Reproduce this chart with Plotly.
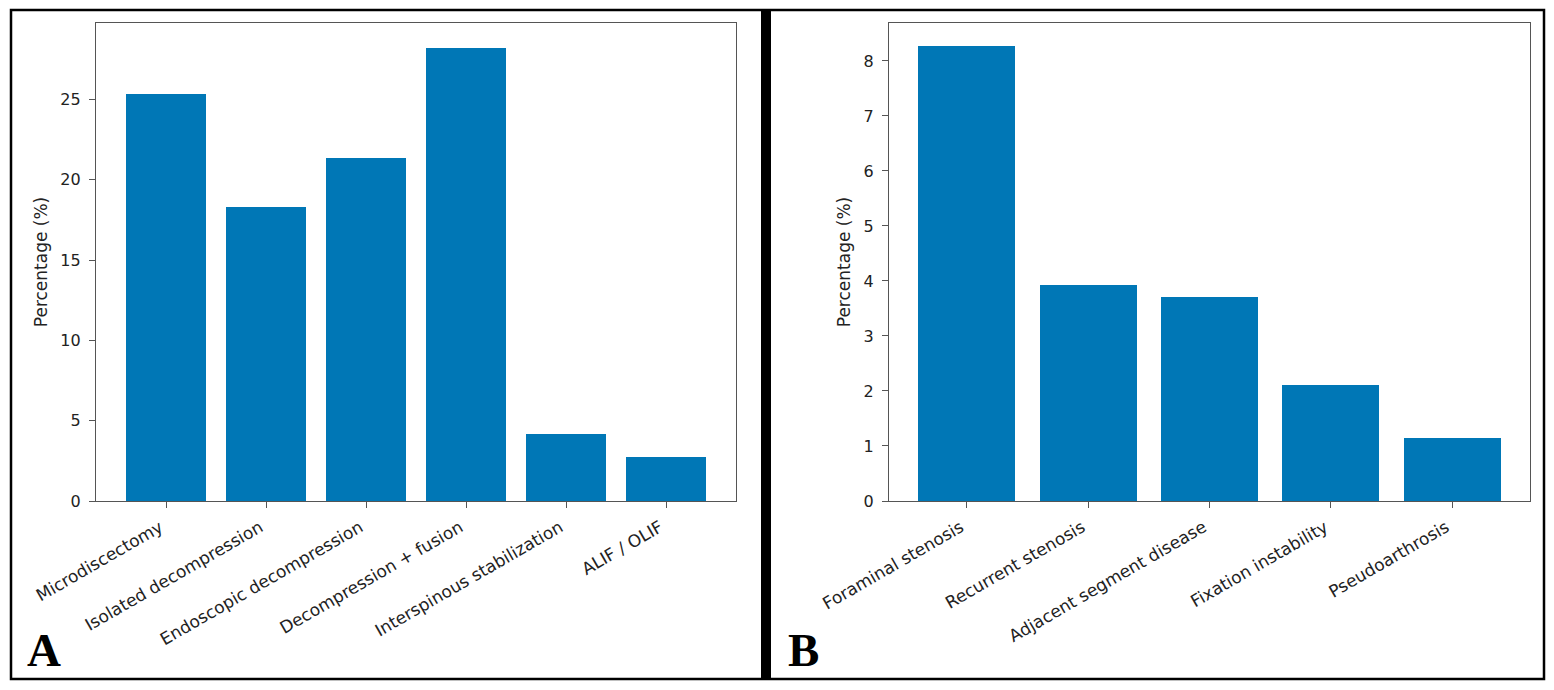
import plotly.graph_objects as go

# the page body adds an 8px margin, so the paper is sized and positioned to compensate
OFF = 8
W, H = 1554 - OFF, 690 - OFF

# panel A: procedures
procedures = ["Microdiscectomy", "Isolated decompression", "Endoscopic decompression",
              "Decompression + fusion", "Interspinous stabilization", "ALIF / OLIF"]
procedure_pct = [25.35, 18.3, 21.35, 28.2, 4.2, 2.75]

# panel B: complications
complications = ["Foraminal stenosis", "Recurrent stenosis", "Adjacent segment disease",
                 "Fixation instability", "Pseudoarthrosis"]
complication_pct = [8.27, 3.92, 3.7, 2.1, 1.14]

BAR = "#0077b6"
AX = "#555555"
TXT = "#222222"


def px_x(p):
    return (p - OFF) / W


def px_y(p):
    return 1 - (p - OFF) / H


fig = go.Figure()
fig.add_trace(go.Bar(x=list(range(len(procedures))), y=procedure_pct, width=0.8,
                     marker=dict(color=BAR, line=dict(width=0)),
                     xaxis="x", yaxis="y", showlegend=False))
fig.add_trace(go.Bar(x=list(range(len(complications))), y=complication_pct, width=0.8,
                     marker=dict(color=BAR, line=dict(width=0)),
                     xaxis="x2", yaxis="y2", showlegend=False))

tickfont = dict(family="DejaVu Sans", size=16, color=TXT)
common_x = dict(showgrid=False, zeroline=False, showline=True, linecolor=AX, linewidth=1.2,
                mirror=True, ticks="outside", ticklen=6, tickcolor=AX, tickangle=-30,
                tickfont=dict(tickfont, size=17), automargin=False,
                ticklabelstandoff=3, ticklabelshift=-6)
common_y = dict(showgrid=False, zeroline=False, showline=True, linecolor=AX, linewidth=1.2,
                mirror=True, ticks="outside", ticklen=6, tickcolor=AX, tickfont=tickfont,
                automargin=False, ticklabelstandoff=5,
                title=dict(text="Percentage (%)", font=dict(family="DejaVu Sans", size=17, color=TXT),
                           standoff=8))

ydom = [px_y(501), px_y(23)]

fig.update_layout(
    width=W, height=H,
    margin=dict(l=0, r=0, t=0, b=0, pad=0, autoexpand=False),
    paper_bgcolor="white", plot_bgcolor="white",
    bargap=0,
    xaxis=dict(common_x, domain=[px_x(96), px_x(736)], range=[-0.7, 5.7],
               tickmode="array", tickvals=list(range(len(procedures))), ticktext=procedures),
    yaxis=dict(common_y, domain=ydom, range=[0, 29.77], tickvals=[0, 5, 10, 15, 20, 25]),
    xaxis2=dict(common_x, domain=[px_x(889), px_x(1530)], range=[-0.64, 4.64],
                tickmode="array", tickvals=list(range(len(complications))), ticktext=complications,
                anchor="y2"),
    yaxis2=dict(common_y, domain=ydom, range=[0, 8.69], tickvals=list(range(9)), anchor="x2"),
)

# outer frame and thick divider
fig.add_shape(type="rect", xref="paper", yref="paper",
              x0=px_x(11), x1=px_x(1544), y0=px_y(679), y1=px_y(10),
              line=dict(color="black", width=2.5), fillcolor="rgba(0,0,0,0)")
fig.add_shape(type="rect", xref="paper", yref="paper",
              x0=px_x(761), x1=px_x(771), y0=px_y(679), y1=px_y(10),
              line=dict(width=0), fillcolor="black")

for letter, xp in [("A", 25), ("B", 786)]:
    fig.add_annotation(text="<b>%s</b>" % letter, xref="paper", yref="paper",
                       x=px_x(xp), y=px_y(678), xanchor="left", yanchor="bottom",
                       showarrow=False,
                       font=dict(family="Liberation Serif", size=47, color="black"))

fig.write_html("out.html")
